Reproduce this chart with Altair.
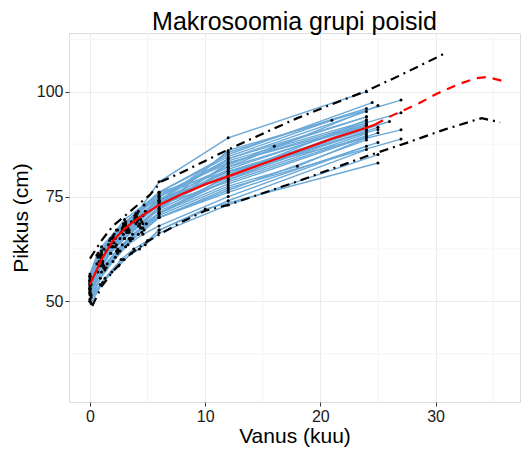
import altair as alt
import pandas as pd

# ---- individual children (age in months, height in cm) ----
CHILD_AGES = [
    [0, 1.0, 2.4, 3.1, 4.2, 6, 12, 24],
    [0, 0.8, 1.9, 3.4, 4.5, 6, 12, 27],
    [0, 1.2, 2.1, 2.9, 4.0, 6, 12, 24.5],
    [0.1, 0.9, 2.6, 3.3, 4.6, 6, 12, 24],
    [0, 0.7, 1.8, 3.0, 4.3, 6, 12, 27],
    [0, 1.4, 2.2, 3.6, 4.8, 6, 12, 25],
    [0, 1.1, 2.0, 3.2, 4.1, 6, 12, 26],
    [0, 0.6, 1.7, 2.8, 3.9, 6, 12, 24],
    [0.1, 1.3, 2.5, 3.5, 4.4, 6, 12, 24],
    [0, 1.0, 2.3, 3.0, 4.7, 6, 12, 27],
    [0, 1.5, 2.8, 3.7, 4.9, 6, 12, 25],
    [0, 0.9, 2.0, 3.1, 4.2, 6, 12, 27],
    [0, 1.2, 2.4, 3.4, 4.5, 6, 12, 25],
    [0, 1.0, 2.2, 3.3, 4.6, 6, 12, 24],
    [0, 1.3, 2.7, 3.8, 5.0, 6, 12, 24],
    [0.1, 1.1, 2.5, 3.6, 4.8, 6, 12, 25],
    [0, 0.9, 1.9, 2.9, 4.3, 6, 10, 25],
    [0, 1.0, 2.1, 3.0, 4.0, 6, 12, 21],
    [0, 0.8, 2.0, 3.2, 4.4, 6, 12, 16, 24],
    [0, 1.2, 2.3, 3.5, 4.6, 6, 12, 18, 24],
    [0, 1.0, 2.0, 3.1, 4.1, 6, 12, 24],
    [0, 0.8, 1.8, 2.9, 4.0, 6, 12, 24],
    [0, 1.1, 2.2, 3.3, 4.3, 6, 12, 24],
    [0, 0.7, 1.6, 2.7, 3.8, 6, 12, 25],
    [0, 1.0, 1.8, 3.0, 4.2, 6, 12, 24],
    [0, 0.6, 1.7, 2.8, 3.9, 6, 12, 24],
    [0.1, 1.4, 2.6, 3.7, 4.7, 6, 12, 24],
    [0, 1.0, 2.1, 3.2, 4.4, 6, 12, 25],
    [0, 0.9, 2.0, 3.0, 4.2, 6, 12, 24],
    [0, 0.8, 1.9, 3.0, 4.0, 6, 12, 24],
    [0, 1.2, 2.4, 3.5, 4.5, 6, 12, 24],
    [0, 0.9, 2.0, 3.1, 4.1, 6, 12, 24],
    [0, 1.1, 2.3, 3.4, 4.6, 6, 12, 24],
    [0, 0.7, 1.8, 2.9, 3.9, 6, 12, 24],
]
CHILD_HEIGHTS = [
    [55, 62, 67, 69, 71.5, 78.5, 89, 100],
    [53, 58.5, 63, 67, 69, 72, 86, 98],
    [56, 62.5, 66, 68.5, 71, 76, 85, 97.4],
    [54, 59.5, 65, 67.5, 70.5, 74, 84, 95.3],
    [52, 57, 61.5, 65, 68, 72, 83, 95],
    [55, 62, 65, 69, 71.5, 75, 82, 96.7],
    [53.5, 59.5, 63, 66.5, 69, 73, 81, 92.9],
    [54.5, 59, 63.5, 67, 69.5, 74, 80, 93.3],
    [51, 57.5, 62, 65, 67.5, 71, 79, 91.7],
    [56, 63, 67, 69.5, 73, 76, 81, 90.9],
    [53, 59, 63.5, 66, 68.5, 71, 78, 90.2],
    [50, 55.5, 59.5, 63, 66, 70, 77, 88.7],
    [52.5, 58, 62.5, 65, 67.5, 70, 76, 87.9],
    [51.5, 57, 60.5, 63.5, 66, 68, 75, 87],
    [50.5, 55.5, 60, 62.5, 64.5, 67, 74, 86.2],
    [49.5, 54.5, 58.5, 61.5, 63.5, 66.3, 73, 85],
    [50, 54, 57, 60, 62.5, 67, 72, 83],
    [54, 61, 65, 68, 70.5, 76, 84.5, 93.2],
    [53, 58.5, 63, 66.5, 69.5, 73.5, 82.5, 87, 94],
    [52, 58.5, 62, 65, 67.5, 70.5, 77.5, 82.2, 89],
    [55.5, 61.5, 65.5, 68.5, 71, 75.5, 83, 92],
    [54, 59.5, 63, 66, 68.5, 73, 81.5, 92.5],
    [53, 59, 63, 66.5, 68.5, 72.5, 80.5, 91],
    [55, 60.5, 63.5, 66.5, 69, 74.5, 80, 91.5],
    [52.5, 58.5, 61.5, 65, 68, 72, 79.5, 90.5],
    [56.5, 61, 64.5, 67.5, 70, 74, 82, 92],
    [51.5, 58, 62, 65, 67, 71.5, 79, 90],
    [54, 60, 64, 67, 69.5, 73.5, 81, 91],
    [53.5, 59.5, 64, 67, 69.5, 73, 78.5, 89.5],
    [55, 61, 65, 68.5, 70.5, 75, 83.5, 93],
    [52, 58, 61.5, 64.5, 66.5, 70, 76.5, 88.5],
    [54.5, 60.5, 65, 68, 70, 74, 85.5, 96],
    [53, 59.5, 63.5, 66.5, 68.5, 71, 80, 92],
    [56, 61.5, 65, 68, 70.5, 75, 84, 94],
]

# ---- reference curves ----
UPPER_X = [0, 1, 2, 3.5, 5.2, 6.2, 8, 10, 12, 15, 18, 21, 24, 27, 31]
UPPER_Y = [60.2, 64.5, 68, 71.5, 75.4, 78.6, 80.8, 83.5, 86.2, 90, 93.7, 97, 100.2, 104, 109.4]
LOWER_X = [0.2, 1, 2, 3.5, 5, 6, 8, 10, 12, 15, 18, 21, 24, 27.5, 30.7, 34, 35.6]
LOWER_Y = [48.9, 53.5, 57.2, 61.3, 64.3, 65.9, 69, 71.6, 73, 75.8, 78.6, 81.6, 84.6, 87.8, 90.9, 93.7, 92.7]
MEAN_X = [0, 0.5, 1, 2, 3, 4, 6, 8, 10, 12, 15, 18, 21, 24, 24.75]
MEAN_Y = [54, 57, 60, 64.5, 67.3, 69.5, 73, 75.6, 77.9, 79.8, 82.8, 85.8, 88.8, 91.4, 92.2]
PRED_X = [24.75, 26, 27, 28.6, 30.1, 32, 33.5, 34.5, 35.9]
PRED_Y = [92.2, 94, 95.3, 97.3, 99.5, 101.8, 103.2, 103.5, 102.5]

X_TICKS = [0, 10, 20, 30]
Y_TICKS = [50, 75, 100]
X_MINOR = [5, 15, 25, 35]
Y_MINOR = [37.5, 62.5, 87.5, 112.5]

rows = []
for i, (ages, hs) in enumerate(zip(CHILD_AGES, CHILD_HEIGHTS)):
    for a, h in zip(ages, hs):
        rows.append({"id": i, "age": a, "height": h})
children = pd.DataFrame(rows)

bands = pd.DataFrame(
    [{"curve": "upper", "age": a, "height": h} for a, h in zip(UPPER_X, UPPER_Y)]
    + [{"curve": "lower", "age": a, "height": h} for a, h in zip(LOWER_X, LOWER_Y)]
)
mean_df = pd.DataFrame({"age": MEAN_X, "height": MEAN_Y})
pred_df = pd.DataFrame({"age": PRED_X, "height": PRED_Y})

xscale = alt.Scale(domain=[-1.82, 37.33], nice=False, zero=False)
yscale = alt.Scale(domain=[26, 114], nice=False, zero=False)

xaxis = alt.Axis(values=X_TICKS, title="Vanus (kuu)", grid=True, gridColor="#ebebeb",
                 domain=False, tickColor="#333333", tickSize=4, labelFontSize=16,
                 labelColor="#1a1a1a", titleFontSize=21, titleFontWeight="normal",
                 titleColor="#000000", labelPadding=2, titlePadding=1,
                 labelFont="Liberation Sans", titleFont="Liberation Sans")
yaxis = alt.Axis(values=Y_TICKS, title="Pikkus (cm)", grid=True, gridColor="#ebebeb",
                 domain=False, tickColor="#333333", tickSize=4, labelFontSize=16,
                 labelColor="#1a1a1a", titleFontSize=21, titleFontWeight="normal",
                 titleColor="#000000", labelPadding=2, titlePadding=5,
                 labelFont="Liberation Sans", titleFont="Liberation Sans")

xminor = alt.Chart(pd.DataFrame({"v": X_MINOR})).mark_rule(color="#f4f4f4", strokeWidth=1).encode(
    x=alt.X("v:Q", scale=xscale, axis=xaxis))
yminor = alt.Chart(pd.DataFrame({"v": Y_MINOR})).mark_rule(color="#f4f4f4", strokeWidth=1).encode(
    y=alt.Y("v:Q", scale=yscale, axis=yaxis))

x_enc = alt.X("age:Q", scale=xscale, axis=xaxis)
y_enc = alt.Y("height:Q", scale=yscale, axis=yaxis)

lines = alt.Chart(children).mark_line(color="#6aa9d8", strokeWidth=1.4).encode(
    x=x_enc, y=y_enc, detail="id:N", order="age:Q")
points = alt.Chart(children).mark_circle(color="#000000", size=9, opacity=1).encode(
    x=x_enc, y=y_enc)
band_lines = alt.Chart(bands).mark_line(color="#000000", strokeWidth=2.2,
                                        strokeDash=[9, 5, 2, 5]).encode(
    x=x_enc, y=y_enc, detail="curve:N", order="age:Q")
mean_line = alt.Chart(mean_df).mark_line(color="#ff0000", strokeWidth=2.2).encode(
    x=x_enc, y=y_enc)
pred_line = alt.Chart(pred_df).mark_line(color="#ff0000", strokeWidth=2.2,
                                         strokeDash=[9, 7]).encode(
    x=x_enc, y=y_enc)

chart = alt.layer(xminor, yminor, lines, points, band_lines, mean_line, pred_line).properties(
    width=451, height=369,
    title=alt.TitleParams("Makrosoomia grupi poisid", fontSize=25, fontWeight="normal",
                          font="Liberation Sans", color="#000000", offset=-2),
    padding={"left": 69, "top": 33, "right": 2, "bottom": 49},
    autosize="none",
).configure_view(stroke="#7f7f7f", strokeWidth=1.2).configure(background="white")

chart.save("out.html", embed_options={"renderer": "svg", "actions": False})
